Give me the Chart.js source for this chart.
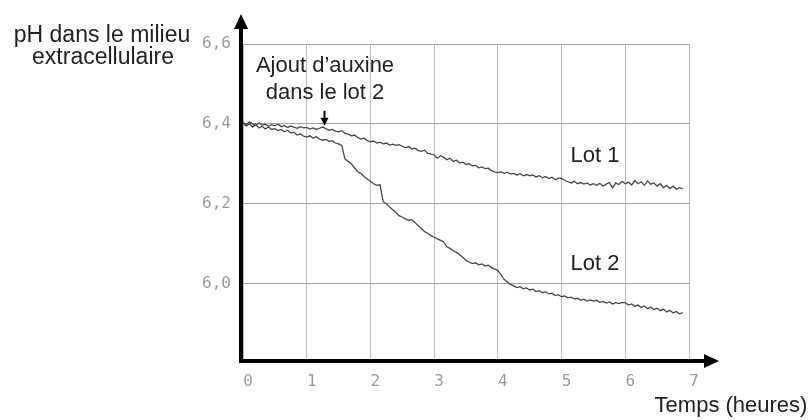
<!DOCTYPE html>
<html>
<head>
<meta charset="utf-8">
<script src="https://cdn.jsdelivr.net/npm/chart.js@4"></script>
<style>
  body { margin: 0; background: #fff; }
  #wrap { width: 811px; height: 420px; position: relative; }
</style>
</head>
<body>
<div id="wrap"><canvas id="phChart" width="811" height="420"></canvas></div>
<script>
// temps en heures
const temps = [
  0, 0.05, 0.1, 0.15, 0.2, 0.25, 0.3, 0.35, 0.4, 0.45,
  0.5, 0.55, 0.6, 0.65, 0.7, 0.75, 0.8, 0.85, 0.9, 0.95,
  1, 1.05, 1.1, 1.15, 1.2, 1.25, 1.3, 1.35, 1.4, 1.45,
  1.5, 1.55, 1.6, 1.65, 1.7, 1.75, 1.8, 1.85, 1.9, 1.95,
  2, 2.05, 2.1, 2.15, 2.2, 2.25, 2.3, 2.35, 2.4, 2.45,
  2.5, 2.55, 2.6, 2.65, 2.7, 2.75, 2.8, 2.85, 2.9, 2.95,
  3, 3.05, 3.1, 3.15, 3.2, 3.25, 3.3, 3.35, 3.4, 3.45,
  3.5, 3.55, 3.6, 3.65, 3.7, 3.75, 3.8, 3.85, 3.9, 3.95,
  4, 4.05, 4.1, 4.15, 4.2, 4.25, 4.3, 4.35, 4.4, 4.45,
  4.5, 4.55, 4.6, 4.65, 4.7, 4.75, 4.8, 4.85, 4.9, 4.95,
  5, 5.05, 5.1, 5.15, 5.2, 5.25, 5.3, 5.35, 5.4, 5.45,
  5.5, 5.55, 5.6, 5.65, 5.7, 5.75, 5.8, 5.85, 5.9, 5.95,
  6, 6.05, 6.1, 6.15, 6.2, 6.25, 6.3, 6.35, 6.4, 6.45,
  6.5, 6.55, 6.6, 6.65, 6.7, 6.75, 6.8, 6.85, 6.9
];

// pH du lot 1 (témoin)
const lot1 = [
  6.404, 6.398, 6.405, 6.400, 6.396, 6.402, 6.397, 6.399, 6.394, 6.398,
  6.395, 6.399, 6.393, 6.396, 6.391, 6.395, 6.392, 6.389, 6.393, 6.390,
  6.391, 6.387, 6.390, 6.386, 6.389, 6.392, 6.388, 6.384, 6.386, 6.382,
  6.380, 6.383, 6.376, 6.374, 6.370, 6.372, 6.366, 6.362, 6.364, 6.358,
  6.355, 6.357, 6.352, 6.354, 6.350, 6.352, 6.347, 6.349, 6.346, 6.348,
  6.344, 6.340, 6.343, 6.337, 6.339, 6.333, 6.331, 6.334, 6.326, 6.324,
  6.322, 6.314, 6.320, 6.316, 6.310, 6.314, 6.306, 6.309, 6.302, 6.304,
  6.298, 6.300, 6.295, 6.296, 6.290, 6.292, 6.288, 6.289, 6.283, 6.280,
  6.278, 6.280, 6.276, 6.279, 6.274, 6.276, 6.272, 6.275, 6.270, 6.273,
  6.270, 6.272, 6.267, 6.270, 6.265, 6.268, 6.263, 6.266, 6.260, 6.264,
  6.264, 6.258, 6.255, 6.252, 6.256, 6.250, 6.253, 6.249, 6.252, 6.247,
  6.250, 6.246, 6.251, 6.244, 6.249, 6.253, 6.240, 6.252, 6.248, 6.256,
  6.250, 6.254, 6.247, 6.258, 6.250, 6.255, 6.246, 6.257, 6.249, 6.252,
  6.244, 6.250, 6.240, 6.246, 6.238, 6.244, 6.236, 6.240, 6.237
];

// pH du lot 2 (auxine ajoutée vers 1,3 h)
const lot2 = [
  6.402, 6.395, 6.400, 6.392, 6.398, 6.390, 6.394, 6.387, 6.392, 6.386,
  6.388, 6.383, 6.386, 6.380, 6.384, 6.377, 6.379, 6.372, 6.375, 6.369,
  6.367, 6.370, 6.364, 6.368, 6.362, 6.359, 6.361, 6.356, 6.358, 6.352,
  6.350, 6.346, 6.312, 6.306, 6.300, 6.290, 6.280, 6.276, 6.268, 6.262,
  6.256, 6.250, 6.246, 6.248, 6.205, 6.200, 6.192, 6.185, 6.178, 6.170,
  6.166, 6.162, 6.158, 6.160, 6.153, 6.145, 6.138, 6.130, 6.126, 6.120,
  6.116, 6.112, 6.108, 6.104, 6.092, 6.088, 6.082, 6.078, 6.072, 6.066,
  6.058, 6.054, 6.050, 6.052, 6.047, 6.049, 6.044, 6.046, 6.040, 6.036,
  6.033, 6.022, 6.010, 6.004, 5.998, 5.994, 5.990, 5.992, 5.987, 5.989,
  5.984, 5.986, 5.980, 5.982, 5.977, 5.979, 5.974, 5.976, 5.970, 5.972,
  5.967, 5.969, 5.964, 5.966, 5.961, 5.963, 5.958, 5.961, 5.956, 5.959,
  5.956, 5.958, 5.953, 5.955, 5.951, 5.954, 5.949, 5.952, 5.950, 5.953,
  5.952, 5.946, 5.949, 5.943, 5.946, 5.940, 5.944, 5.937, 5.941, 5.935,
  5.938, 5.932, 5.936, 5.929, 5.933, 5.926, 5.930, 5.924, 5.927
];

const yTicks = [6.0, 6.2, 6.4, 6.6];
const ajoutAuxine = 1.27; // heure de l'ajout (flèche)

const texteFont = '22px "Liberation Sans", Arial, sans-serif';
const titreFont = '23px "Liberation Sans", Arial, sans-serif';

// axes noirs avec flèches + textes du schéma
const schemaPlugin = {
  id: 'schema',
  afterDraw(chart) {
    const ctx = chart.ctx;
    const a = chart.chartArea;
    const x0 = a.left - 2, y0 = a.bottom;
    ctx.save();
    ctx.fillStyle = '#000';
    ctx.strokeStyle = '#000';
    ctx.lineWidth = 4;
    ctx.lineCap = 'butt';
    // axe vertical
    ctx.beginPath();
    ctx.moveTo(x0, y0 + 2);
    ctx.lineTo(x0, 28);
    ctx.stroke();
    ctx.beginPath();
    ctx.moveTo(x0, 14);
    ctx.lineTo(x0 - 7, 29);
    ctx.lineTo(x0 + 7, 29);
    ctx.closePath();
    ctx.fill();
    // axe horizontal
    ctx.beginPath();
    ctx.moveTo(x0 - 2, y0);
    ctx.lineTo(705, y0);
    ctx.stroke();
    ctx.beginPath();
    ctx.moveTo(719, y0);
    ctx.lineTo(704, y0 - 7);
    ctx.lineTo(704, y0 + 7);
    ctx.closePath();
    ctx.fill();

    // flèche "ajout d'auxine"
    const xs = chart.scales.x, ys = chart.scales.y;
    const ax = Math.round(xs.getPixelForValue(ajoutAuxine)) + 0.5;
    const tipY = ys.getPixelForValue(6.395);
    ctx.lineWidth = 2;
    ctx.beginPath();
    ctx.moveTo(ax, tipY - 15);
    ctx.lineTo(ax, tipY - 6);
    ctx.stroke();
    ctx.beginPath();
    ctx.moveTo(ax, tipY);
    ctx.lineTo(ax - 4, tipY - 8);
    ctx.lineTo(ax + 4, tipY - 8);
    ctx.closePath();
    ctx.fill();

    // textes
    ctx.fillStyle = '#222';
    ctx.textAlign = 'center';
    ctx.textBaseline = 'middle';
    ctx.font = titreFont;
    ctx.fillText('pH dans le milieu', 102, 36);
    ctx.fillText('extracellulaire', 103, 58);
    ctx.font = texteFont;
    ctx.fillText('Ajout d\u2019auxine', 325, 66);
    ctx.fillText('dans le lot 2', 325, 93);
    ctx.fillText('Lot 1', 595, 156);
    ctx.fillText('Lot 2', 595, 264);
    ctx.fillText('Temps (heures)', 731, 406);
    ctx.restore();
  }
};

const toPoints = arr => temps.map((t, i) => ({ x: t, y: arr[i] }));

new Chart(document.getElementById('phChart').getContext('2d'), {
  type: 'line',
  data: {
    datasets: [
      {
        label: 'Lot 1',
        data: toPoints(lot1),
        borderColor: '#474747',
        borderWidth: 1.3,
        pointRadius: 0,
        tension: 0,
        fill: false
      },
      {
        label: 'Lot 2',
        data: toPoints(lot2),
        borderColor: '#474747',
        borderWidth: 1.3,
        pointRadius: 0,
        tension: 0,
        fill: false
      }
    ]
  },
  options: {
    responsive: false,
    animation: false,
    devicePixelRatio: 1,
    layout: { padding: { top: 44, right: 122, left: 0, bottom: 0 } },
    plugins: {
      legend: { display: false },
      tooltip: { enabled: false }
    },
    scales: {
      x: {
        type: 'linear',
        min: 0,
        max: 7,
        ticks: {
          stepSize: 1,
          color: '#9a9a9a',
          padding: 11,
          labelOffset: 5,
          font: { family: '"DejaVu Sans Mono", monospace', size: 16 }
        },
        grid: { color: '#bdbdbd', lineWidth: 1, drawTicks: false },
        border: { display: false },
        afterFit: s => { s.height = 59; }
      },
      y: {
        min: 5.806,
        max: 6.6,
        afterBuildTicks: s => { s.ticks = yTicks.map(v => ({ value: v })); },
        ticks: {
          color: '#9a9a9a',
          padding: 12,
          font: { family: '"DejaVu Sans Mono", monospace', size: 16 },
          callback: v => v.toFixed(1).replace('.', ',')
        },
        grid: { color: '#a2a2a2', lineWidth: 1, drawTicks: false },
        border: { display: false },
        afterFit: s => { s.width = 243; }
      }
    }
  },
  plugins: [schemaPlugin]
});
</script>
</body>
</html>
